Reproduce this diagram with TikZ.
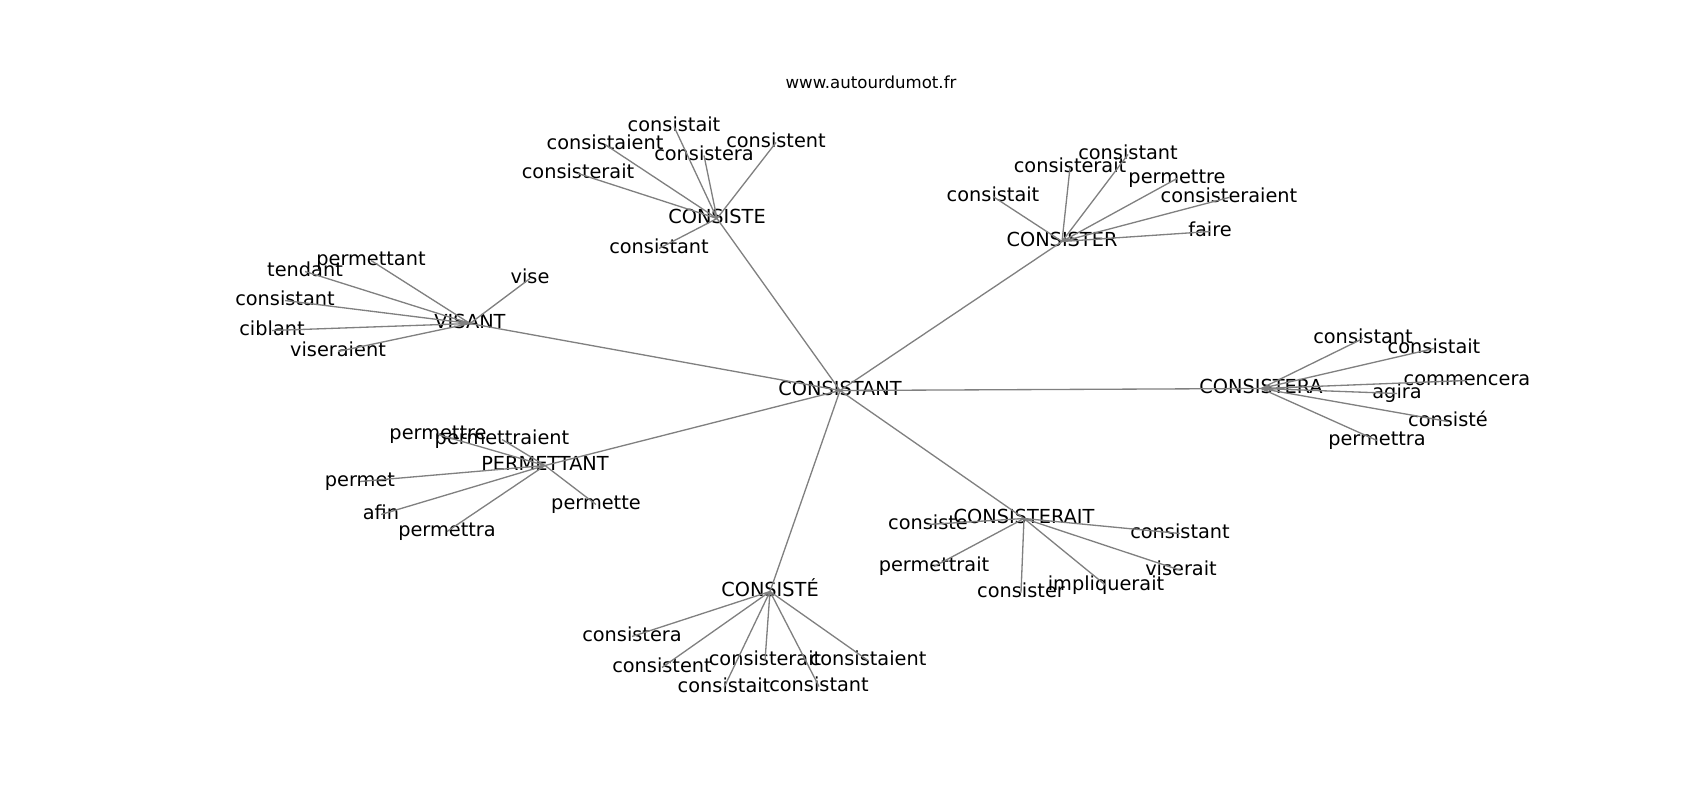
\documentclass[tikz,border=0pt]{standalone}
\usepackage{fontspec}
\setmainfont{DejaVu Sans}
\usepackage{tikz}
\tikzstyle{word} = [inner sep=0pt, text height=0.76em, text depth=0.21em, font=\fontsize{11}{13}\selectfont]
\tikzstyle{site} = [inner sep=0pt, font=\fontsize{9.45}{11}\selectfont]
\tikzstyle{link} = [draw=black!50, line width=0.75pt]

\begin{document}
\begin{tikzpicture}[x=0.02cm, y=-0.02cm]
\useasboundingbox (0,-3.5) rectangle (1700,796.5);
\node(site) [site] at (871,79) {www.autourdumot.fr};
% hubs
\node(consistant) [word] at (840,387) {CONSISTANT};
\node(consiste) [word] at (717,215) {CONSISTE};
\node(consister) [word] at (1062,238) {CONSISTER};
\node(visant) [word] at (470,320) {VISANT};
\node(consistera) [word] at (1261,385) {CONSISTERA};
\node(permettant) [word] at (545,462) {PERMETTANT};
\node(consisterait) [word] at (1024,515) {CONSISTERAIT};
\node(consiste2) [word] at (770,588) {CONSISTÉ};
% CONSISTE
\node(ce1) [word] at (674,123) {consistait};
\node(ce2) [word] at (605,141) {consistaient};
\node(ce3) [word] at (704,152) {consistera};
\node(ce4) [word] at (776,139) {consistent};
\node(ce5) [word] at (578,170) {consisterait};
\node(ce6) [word] at (659,245) {consistant};
% CONSISTER
\node(cr1) [word] at (993,193) {consistait};
\node(cr2) [word] at (1070,164) {consisterait};
\node(cr3) [word] at (1128,151) {consistant};
\node(cr4) [word] at (1177,175) {permettre};
\node(cr5) [word] at (1229,194) {consisteraient};
\node(cr6) [word] at (1210,228) {faire};
% VISANT
\node(vi1) [word] at (371,257) {permettant};
\node(vi2) [word] at (305,268) {tendant};
\node(vi3) [word] at (285,297) {consistant};
\node(vi4) [word] at (272,327) {ciblant};
\node(vi5) [word] at (338,348) {viseraient};
\node(vi6) [word] at (530,275) {vise};
% CONSISTERA
\node(ca1) [word] at (1363,335) {consistant};
\node(ca2) [word] at (1434,345) {consistait};
\node(ca3) [word] at (1467,377) {commencera};
\node(ca4) [word] at (1397,390) {agira};
\node(ca5) [word] at (1448,418) {consisté};
\node(ca6) [word] at (1377,437) {permettra};
% PERMETTANT
\node(pe1) [word] at (438,431) {permettre};
\node(pe2) [word] at (502,436) {permettraient};
\node(pe3) [word] at (360,478) {permet};
\node(pe4) [word] at (381,511) {afin};
\node(pe5) [word] at (447,528) {permettra};
\node(pe6) [word] at (596,501) {permette};
% CONSISTERAIT
\node(ct1) [word] at (928,521) {consiste};
\node(ct2) [word] at (1180,530) {consistant};
\node(ct3) [word] at (934,563) {permettrait};
\node(ct4) [word] at (1021,589) {consister};
\node(ct5) [word] at (1106,582) {impliquerait};
\node(ct6) [word] at (1181,567) {viserait};
% CONSISTE (accent)
\node(cs1) [word] at (632,633) {consistera};
\node(cs2) [word] at (662,664) {consistent};
\node(cs3) [word] at (765,657) {consisterait};
\node(cs4) [word] at (868,657) {consistaient};
\node(cs5) [word] at (724,684) {consistait};
\node(cs6) [word] at (819,683) {consistant};
% links
\draw[link] (consistant.center) -- (consiste.center) (consistant.center) -- (consister.center)
  (consistant.center) -- (visant.center) (consistant.center) -- (consistera.center)
  (consistant.center) -- (permettant.center) (consistant.center) -- (consisterait.center)
  (consistant.center) -- (consiste2.center);
\draw[link] (consiste.center) -- (ce1.center) (consiste.center) -- (ce2.center) (consiste.center) -- (ce3.center)
  (consiste.center) -- (ce4.center) (consiste.center) -- (ce5.center) (consiste.center) -- (ce6.center);
\draw[link] (consister.center) -- (cr1.center) (consister.center) -- (cr2.center) (consister.center) -- (cr3.center)
  (consister.center) -- (cr4.center) (consister.center) -- (cr5.center) (consister.center) -- (cr6.center);
\draw[link] (visant.center) -- (vi1.center) (visant.center) -- (vi2.center) (visant.center) -- (vi3.center)
  (visant.center) -- (vi4.center) (visant.center) -- (vi5.center) (visant.center) -- (vi6.center);
\draw[link] (consistera.center) -- (ca1.center) (consistera.center) -- (ca2.center) (consistera.center) -- (ca3.center)
  (consistera.center) -- (ca4.center) (consistera.center) -- (ca5.center) (consistera.center) -- (ca6.center);
\draw[link] (permettant.center) -- (pe1.center) (permettant.center) -- (pe2.center) (permettant.center) -- (pe3.center)
  (permettant.center) -- (pe4.center) (permettant.center) -- (pe5.center) (permettant.center) -- (pe6.center);
\draw[link] (consisterait.center) -- (ct1.center) (consisterait.center) -- (ct2.center) (consisterait.center) -- (ct3.center)
  (consisterait.center) -- (ct4.center) (consisterait.center) -- (ct5.center) (consisterait.center) -- (ct6.center);
\draw[link] (consiste2.center) -- (cs1.center) (consiste2.center) -- (cs2.center) (consiste2.center) -- (cs3.center)
  (consiste2.center) -- (cs4.center) (consiste2.center) -- (cs5.center) (consiste2.center) -- (cs6.center);
\end{tikzpicture}
\end{document}
